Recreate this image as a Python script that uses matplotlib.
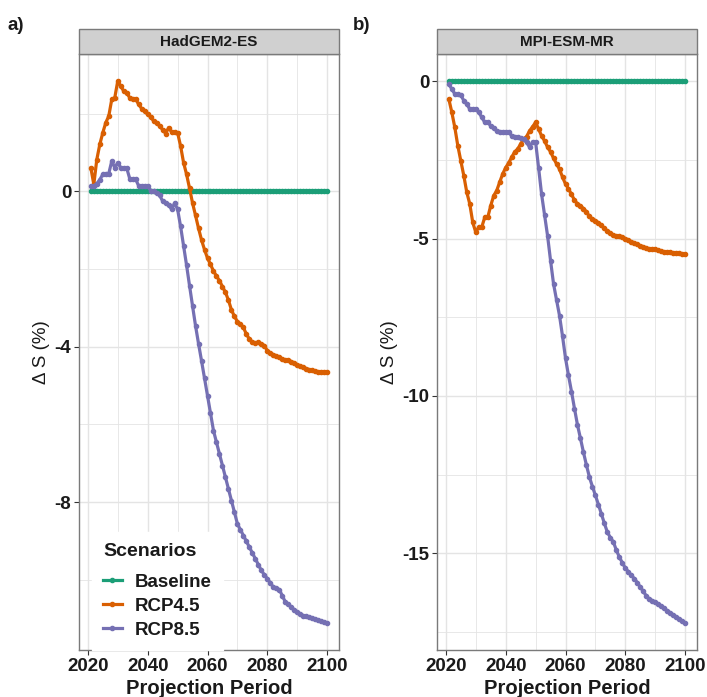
import numpy as np
import matplotlib
matplotlib.use("Agg")
import matplotlib.pyplot as plt
from matplotlib.lines import Line2D
from matplotlib.patches import Rectangle
from matplotlib.ticker import MultipleLocator

plt.rcParams['font.family'] = ['Liberation Sans', 'DejaVu Sans']

years = np.arange(2021, 2101)
scenarios = ["Baseline", "RCP4.5", "RCP8.5"]
colors = ["#1B9E77", "#D95F02", "#7570B3"]
panel_titles = ["HadGEM2-ES", "MPI-ESM-MR"]
panel_tags = ["a)", "b)"]

baseline = [0.0] * 80

had_rcp45 = [0.61, 0.18, 0.82, 1.21, 1.51, 1.77, 1.94, 2.37, 2.41, 2.84,
             2.71, 2.58, 2.54, 2.41, 2.38, 2.37, 2.24, 2.13, 2.07, 1.98,
             1.92, 1.81, 1.77, 1.68, 1.59, 1.49, 1.64, 1.53, 1.52, 1.51,
             1.17, 0.74, 0.44, 0.08, -0.30, -0.62, -0.95, -1.25, -1.50, -1.72,
             -1.88, -2.05, -2.18, -2.30, -2.45, -2.60, -2.80, -3.05, -3.22, -3.35,
             -3.42, -3.50, -3.68, -3.80, -3.88, -3.90, -3.89, -3.92, -3.97, -4.10,
             -4.17, -4.20, -4.24, -4.27, -4.32, -4.34, -4.34, -4.38, -4.42, -4.46,
             -4.50, -4.53, -4.56, -4.59, -4.61, -4.63, -4.64, -4.64, -4.65, -4.65]

had_rcp85 = [0.14, 0.14, 0.20, 0.30, 0.44, 0.46, 0.46, 0.78, 0.61, 0.74,
             0.61, 0.60, 0.60, 0.33, 0.31, 0.31, 0.14, 0.14, 0.14, 0.14,
             0.02, 0.00, -0.05, -0.10, -0.25, -0.30, -0.35, -0.46, -0.30, -0.46,
             -0.90, -1.40, -1.90, -2.43, -2.95, -3.46, -3.92, -4.36, -4.81, -5.26,
             -5.71, -6.16, -6.46, -6.76, -7.06, -7.36, -7.66, -7.96, -8.26, -8.56,
             -8.71, -8.86, -9.01, -9.16, -9.31, -9.46, -9.61, -9.76, -9.87, -9.97,
             -10.08, -10.19, -10.22, -10.25, -10.41, -10.57, -10.63, -10.70, -10.77, -10.83,
             -10.88, -10.92, -10.94, -10.96, -10.99, -11.02, -11.04, -11.07, -11.09, -11.11]

mpi_rcp45 = [-0.57, -0.99, -1.47, -2.05, -2.53, -3.00, -3.53, -3.90, -4.49, -4.80,
             -4.64, -4.64, -4.33, -4.33, -3.96, -3.64, -3.48, -3.21, -2.95, -2.75,
             -2.60, -2.42, -2.25, -2.16, -2.00, -1.84, -1.76, -1.58, -1.45, -1.31,
             -1.52, -1.74, -1.90, -2.10, -2.25, -2.45, -2.63, -2.80, -3.05, -3.27,
             -3.42, -3.60, -3.78, -3.90, -3.96, -4.05, -4.15, -4.30, -4.38, -4.43,
             -4.50, -4.58, -4.68, -4.76, -4.83, -4.90, -4.91, -4.91, -4.95, -5.00,
             -5.05, -5.10, -5.14, -5.19, -5.23, -5.26, -5.30, -5.33, -5.33, -5.34,
             -5.38, -5.40, -5.42, -5.43, -5.44, -5.45, -5.46, -5.47, -5.48, -5.49]

mpi_rcp85 = [-0.10, -0.25, -0.41, -0.41, -0.44, -0.62, -0.73, -0.89, -0.89, -0.89,
             -0.99, -1.15, -1.31, -1.31, -1.42, -1.50, -1.58, -1.61, -1.61, -1.61,
             -1.61, -1.74, -1.76, -1.79, -1.82, -1.84, -1.95, -2.10, -1.93, -1.93,
             -2.75, -3.59, -4.25, -4.91, -5.70, -6.44, -6.95, -7.45, -8.10, -8.80,
             -9.35, -9.86, -10.40, -10.92, -11.35, -11.79, -12.20, -12.58, -12.88, -13.16,
             -13.45, -13.75, -14.05, -14.33, -14.50, -14.64, -14.90, -15.12, -15.30, -15.47,
             -15.58, -15.70, -15.80, -15.93, -16.07, -16.21, -16.35, -16.45, -16.50, -16.55,
             -16.62, -16.68, -16.75, -16.82, -16.89, -16.95, -17.02, -17.08, -17.15, -17.21]

panels = [
    {"series": [baseline, had_rcp45, had_rcp85], "major": 4, "minor": 2},
    {"series": [baseline, mpi_rcp45, mpi_rcp85], "major": 5, "minor": 2.5},
]

W, H = 707, 697
fig = plt.figure(figsize=(W / 100, H / 100), dpi=100)

def fx(px):
    return px / W

def fy(py):
    return 1 - py / H

panel_left = [79, 437]
pw = 260
ptop, pbot = 54, 650
strip_top = 29

tick_color = "#1a1a1a"
border_color = "#7a7a7a"
grid_color = "#e4e4e4"
LW, MS = 2.3, 3.0

for i, p in enumerate(panels):
    L = panel_left[i]
    ax = fig.add_axes([fx(L), fy(pbot), pw / W, (pbot - ptop) / H])
    for name, col, vals in zip(scenarios, colors, p["series"]):
        ax.plot(years, vals, color=col, lw=LW, marker='o', ms=MS,
                mec=col, mfc=col, label=name, zorder=3, solid_capstyle='round')
    allv = np.concatenate([np.asarray(v, float) for v in p["series"]])
    lo, hi = allv.min(), allv.max()
    pad = 0.05 * (hi - lo)
    ax.set_ylim(lo - pad, hi + pad)
    xpad = 0.05 * (years[-1] - years[0])
    ax.set_xlim(years[0] - xpad, years[-1] + xpad)
    ax.xaxis.set_major_locator(MultipleLocator(20))
    ax.xaxis.set_minor_locator(MultipleLocator(10))
    ax.yaxis.set_major_locator(MultipleLocator(p["major"]))
    ax.yaxis.set_minor_locator(MultipleLocator(p["minor"]))
    ax.grid(True, which='major', color=grid_color, lw=1.0, zorder=0)
    ax.grid(True, which='minor', color=grid_color, lw=0.6, zorder=0)
    ax.set_axisbelow(True)
    ax.tick_params(which='minor', length=0)
    ax.tick_params(which='major', length=3.5, width=0.8, color="#333333",
                   labelsize=13.5, labelcolor=tick_color, pad=2)
    for lab in ax.get_xticklabels() + ax.get_yticklabels():
        lab.set_fontweight('bold')
    ax.yaxis.set_major_formatter(matplotlib.ticker.FuncFormatter(
        lambda v, pos: "%g" % v if v != 0 else "0"))
    for s in ax.spines.values():
        s.set_color(border_color)
        s.set_linewidth(1.0)
    ax.set_xlabel("Projection Period", fontsize=14.5, fontweight='bold',
                  color=tick_color, labelpad=3)
    ax.set_ylabel("Δ S (%)", fontsize=13.5, color=tick_color, labelpad=3)

    # strip
    fig.patches.append(Rectangle((fx(L), fy(ptop)), pw / W, (ptop - strip_top) / H,
                                 transform=fig.transFigure, facecolor="#d0d0d0",
                                 edgecolor=border_color, lw=1.0))
    fig.text(fx(L + pw / 2), fy((ptop + strip_top) / 2 + 0.5), panel_titles[i],
             fontsize=11, fontweight='bold', color=tick_color,
             ha='center', va='center')
    fig.text(fx([8, 353][i]), fy(25), panel_tags[i], fontsize=13.5,
             fontweight='bold', color=tick_color, ha='left', va='center')

    if i == 0:
        handles = [Line2D([0], [0], color=c, lw=LW, marker='o', ms=MS) for c in colors]
        leg = ax.legend(handles, scenarios, title="Scenarios", loc='lower left',
                        bbox_to_anchor=(0.049, 0.0), frameon=True, fancybox=False,
                        framealpha=1, edgecolor='white', facecolor='white',
                        prop={'weight': 'bold', 'size': 13.5},
                        title_fontproperties={'weight': 'bold', 'size': 14},
                        handlelength=1.0, handletextpad=0.7, labelspacing=0.37,
                        borderpad=0.6, borderaxespad=0.0, alignment='left')
        leg._legend_box.sep = 9.5
        for t in leg.get_texts():
            t.set_color(tick_color)
        leg.get_title().set_color(tick_color)

fig.savefig("out.png", dpi=100)
